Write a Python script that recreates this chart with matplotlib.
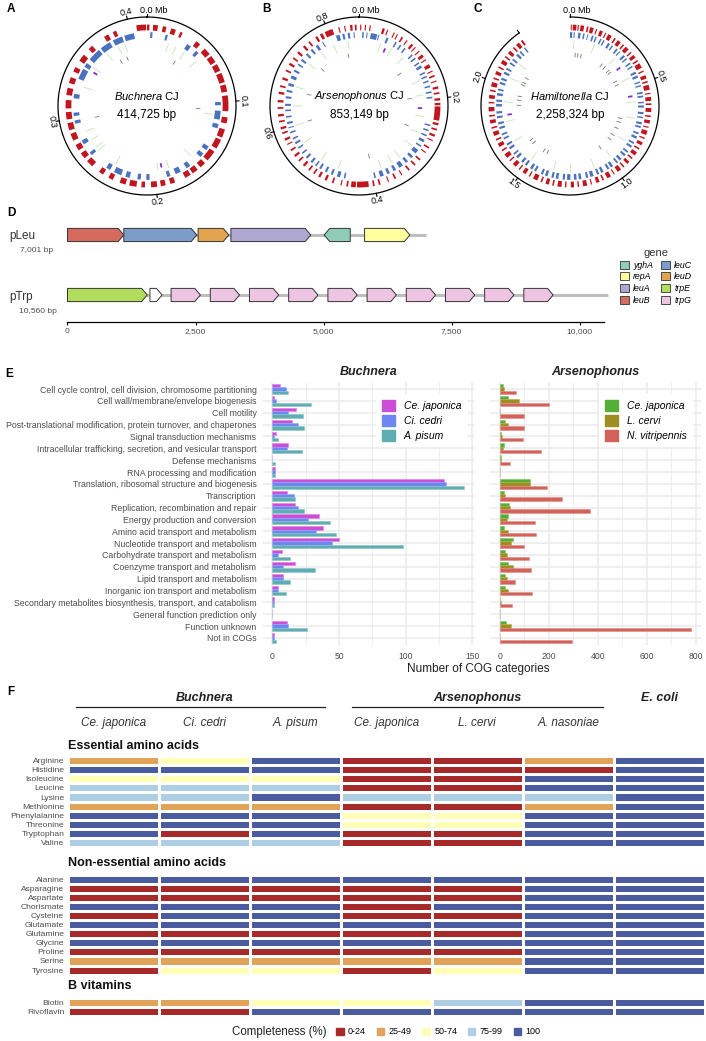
import numpy as np
import matplotlib.pyplot as plt
from matplotlib.patches import Polygon, Patch
from matplotlib.colors import ListedColormap, BoundaryNorm
from matplotlib.transforms import blended_transform_factory

plt.rcParams['font.family'] = ['Liberation Sans', 'DejaVu Sans']
plt.rcParams['mathtext.fontset'] = 'custom'
plt.rcParams['mathtext.it'] = 'Liberation Sans:italic'
plt.rcParams['mathtext.rm'] = 'Liberation Sans'
plt.rcParams['mathtext.bf'] = 'Liberation Sans:bold'

# ---------------- data: genome maps (kb) ----------------
buch_len = 414.725
buch_ticks = [0.0, 0.1, 0.2, 0.3, 0.4]
buch_red = [[0, 2], [5, 9], [13, 16], [20, 24], [28, 30], [43, 47], [52, 58], [60, 66], [68, 74], [76, 84],
            [86, 92], [95, 108], [113, 118], [123, 130], [132, 140], [143, 152], [155, 160], [163, 168],
            [170, 175], [184, 188], [192, 196], [199, 204], [209, 212], [216, 222], [225, 230], [236, 240],
            [245, 249], [256, 262], [265, 270], [273, 278], [282, 288], [291, 297], [300, 306], [309, 316],
            [320, 326], [330, 335], [340, 344], [350, 356], [362, 366], [378, 382], [386, 389], [406, 414]]
buch_blue = [[3, 5], [17, 19], [38, 42], [48, 51], [100, 103], [108, 116], [120, 124], [142, 146], [150, 154],
             [166, 170], [176, 181], [186, 189], [205, 208], [213, 216], [223, 227], [231, 238], [242, 246],
             [263, 266], [275, 279], [295, 298], [302, 305], [318, 322], [336, 346], [348, 352], [356, 368],
             [370, 380], [383, 392], [394, 403]]
buch_trna = [22, 30, 40, 55, 112, 160, 185, 196, 240, 262, 266, 275, 285, 330, 352, 372, 385, 392]
buch_rrna = [192, 348]
buch_other = [37, 107, 297, 380, 389]

ars_len = 853.149
ars_ticks = [0.0, 0.2, 0.4, 0.6, 0.8]
ars_red = [[2, 4], [10, 12], [18, 20], [40, 44], [48, 50], [60, 62], [66, 68], [75, 78], [85, 87], [95, 99],
           [103, 105], [112, 114], [120, 125], [130, 132], [140, 146], [152, 154], [160, 163], [170, 172],
           [180, 184], [190, 193], [200, 204], [208, 212], [214, 238], [242, 246], [252, 255], [262, 266],
           [272, 274], [285, 288], [295, 297], [310, 313], [322, 325], [335, 338], [350, 352], [362, 365],
           [375, 377], [390, 393], [400, 403], [410, 430], [432, 440], [445, 448], [456, 458], [470, 473],
           [482, 486], [494, 498], [505, 508], [515, 518], [526, 530], [538, 541], [548, 552], [560, 563],
           [572, 574], [580, 584], [592, 595], [600, 604], [612, 615], [622, 626], [635, 638], [646, 650],
           [660, 664], [672, 675], [685, 689], [700, 703], [712, 716], [724, 727], [736, 740], [750, 754],
           [762, 765], [776, 780], [785, 790], [794, 808], [818, 820], [828, 830], [838, 842], [846, 849]]
ars_blue = [[6, 9], [14, 16], [22, 34], [36, 38], [52, 56], [70, 73], [80, 83], [90, 93], [108, 111],
            [116, 119], [127, 130], [134, 139], [148, 151], [156, 159], [165, 168], [175, 178], [186, 189],
            [196, 199], [248, 251], [258, 261], [268, 271], [278, 283], [290, 293], [300, 308], [315, 320],
            [328, 333], [340, 348], [355, 360], [368, 373], [380, 387], [395, 398], [452, 455], [462, 468],
            [476, 480], [488, 492], [500, 504], [510, 513], [520, 524], [532, 536], [544, 547], [556, 559],
            [566, 570], [576, 579], [588, 591], [598, 600], [606, 610], [618, 621], [630, 633], [640, 644],
            [654, 658], [666, 670], [678, 683], [692, 698], [706, 710], [720, 723], [730, 734], [744, 748],
            [756, 760], [768, 773], [782, 784], [810, 817], [822, 826], [832, 836], [843, 845]]
ars_trna = [45, 70, 100, 160, 190, 235, 270, 300, 335, 355, 380, 470, 510, 560, 600, 640, 680, 735, 770, 800, 830]
ars_rrna = [58, 218]
ars_other = [123, 194, 265, 400, 601, 670, 746, 825]

ham_len = 2258.324
ham_scale = 2500
ham_ticks = [0.0, 0.5, 1.0, 1.5, 2.0]
ham_red = [[4, 9], [14, 32], [38, 44], [52, 70], [84, 92], [100, 118], [130, 136], [150, 166], [178, 184],
           [195, 214], [230, 238], [250, 268], [282, 290], [300, 320], [335, 342], [355, 372], [386, 394],
           [405, 430], [445, 452], [470, 488], [500, 508], [520, 545], [560, 566], [580, 600], [612, 620],
           [635, 655], [672, 680], [695, 712], [728, 734], [748, 770], [785, 792], [810, 826], [842, 850],
           [866, 885], [900, 908], [925, 940], [958, 966], [980, 1000], [1018, 1024], [1040, 1060],
           [1078, 1086], [1102, 1118], [1140, 1146], [1165, 1185], [1205, 1212], [1230, 1246], [1268, 1275],
           [1292, 1312], [1330, 1338], [1355, 1372], [1390, 1398], [1415, 1438], [1455, 1462], [1480, 1498],
           [1515, 1522], [1540, 1560], [1578, 1585], [1600, 1622], [1640, 1648], [1665, 1684], [1700, 1708],
           [1725, 1746], [1762, 1770], [1788, 1806], [1822, 1830], [1848, 1870], [1888, 1895], [1912, 1930],
           [1948, 1956], [1972, 1994], [2010, 2018], [2035, 2052], [2070, 2078], [2095, 2115], [2130, 2138],
           [2155, 2172], [2190, 2198], [2212, 2230], [2242, 2252]]
ham_blue = [[0, 12], [20, 26], [45, 58], [72, 80], [95, 100], [120, 130], [140, 148], [168, 176], [186, 194],
            [216, 228], [240, 248], [270, 280], [292, 298], [322, 334], [344, 352], [375, 384], [396, 404],
            [432, 444], [455, 468], [490, 498], [510, 518], [548, 558], [568, 578], [602, 610], [622, 634],
            [658, 670], [684, 692], [714, 726], [736, 746], [772, 782], [795, 808], [830, 840], [852, 864],
            [888, 898], [910, 922], [942, 956], [968, 978], [1002, 1016], [1026, 1038], [1062, 1076],
            [1088, 1100], [1120, 1138], [1150, 1162], [1188, 1202], [1214, 1228], [1248, 1266], [1278, 1290],
            [1314, 1328], [1340, 1352], [1374, 1388], [1400, 1412], [1440, 1452], [1464, 1478], [1500, 1512],
            [1525, 1538], [1562, 1576], [1588, 1598], [1625, 1638], [1650, 1662], [1688, 1698], [1712, 1722],
            [1748, 1760], [1774, 1786], [1808, 1820], [1834, 1846], [1872, 1886], [1898, 1910], [1932, 1946],
            [1960, 1970], [1996, 2008], [2020, 2032], [2055, 2068], [2082, 2092], [2118, 2128], [2142, 2152],
            [2175, 2188], [2200, 2210], [2232, 2240]]
ham_trna = [25, 150, 300, 450, 600, 700, 850, 980, 1100, 1250, 1350, 1500, 1650, 1780, 1900, 2050, 2150]
ham_rrna = [365, 563, 1820]
ham_other = [40, 60, 85, 260, 290, 330, 350, 430, 460, 720, 750, 800, 860, 900, 1000, 1430, 1460, 1560,
             1590, 1880, 1920, 1950, 2040, 2060, 2100]

# ---------------- data: plasmids ----------------
pleu_genes = ['leuB', 'leuC', 'leuD', 'leuA', 'yghA', 'repA']
pleu_start = [0, 1100, 2550, 3190, 5010, 5800]
pleu_end = [1100, 2525, 3150, 4750, 5520, 6685]
pleu_strand = [1, 1, 1, 1, -1, 1]
pleu_len = 7001
ptrp_genes = ['trpE', 'other', 'trpG', 'trpG', 'trpG', 'trpG', 'trpG', 'trpG', 'trpG', 'trpG', 'trpG', 'trpG']
ptrp_start = [0, 1610, 2023, 2788, 3553, 4318, 5084, 5849, 6614, 7379, 8144, 8909]
ptrp_end = [1557, 1847, 2595, 3360, 4125, 4890, 5656, 6421, 7186, 7951, 8716, 9481]
ptrp_strand = [1] * 12
ptrp_len = 10560
legend_genes = ['yghA', 'repA', 'leuA', 'leuB', 'leuC', 'leuD', 'trpE', 'trpG']
gene_colors = {'yghA': '#8FCBB6', 'repA': '#FFFF9E', 'leuA': '#ADA7D2', 'leuB': '#D66A5E',
               'leuC': '#7C9DC9', 'leuD': '#E2A44F', 'trpE': '#B2DC5B', 'trpG': '#EEC4E3', 'other': 'white'}

# ---------------- data: COG counts ----------------
cog_cats = ['Cell cycle control, cell division, chromosome partitioning',
            'Cell wall/membrane/envelope biogenesis', 'Cell motility',
            'Post-translational modification, protein turnover, and chaperones',
            'Signal transduction mechanisms',
            'Intracellular trafficking, secretion, and vesicular transport', 'Defense mechanisms',
            'RNA processing and modification', 'Translation, ribosomal structure and biogenesis',
            'Transcription', 'Replication, recombination and repair', 'Energy production and conversion',
            'Amino acid transport and metabolism', 'Nucleotide transport and metabolism',
            'Carbohydrate transport and metabolism', 'Coenzyme transport and metabolism',
            'Lipid transport and metabolism', 'Inorganic ion transport and metabolism',
            'Secondary metabolites biosynthesis, transport, and catabolism',
            'General function prediction only', 'Function unknown', 'Not in COGs']
buch_ce = [6, 1, 18, 15, 3, 12, 0, 2, 129, 11, 17, 35, 38, 50, 7, 17, 8, 4, 1, 0, 11, 1]
buch_ci = [10, 3, 12, 19, 1, 11, 0, 2, 130, 16, 19, 27, 33, 45, 4, 8, 8, 4, 1, 0, 12, 1]
buch_ap = [12, 29, 23, 24, 4, 22, 2, 2, 144, 17, 24, 43, 48, 98, 13, 32, 13, 10, 1, 0, 26, 3]
ars_ce = [14, 35, 1, 24, 4, 18, 4, 0, 124, 19, 38, 35, 20, 53, 22, 33, 24, 22, 0, 0, 27, 0]
ars_lc = [19, 78, 0, 33, 8, 15, 7, 0, 124, 24, 42, 31, 34, 45, 30, 54, 31, 34, 7, 0, 48, 0]
ars_nv = [67, 200, 100, 100, 94, 168, 42, 0, 192, 254, 368, 144, 147, 99, 120, 128, 63, 132, 52, 0, 780, 297]

# ---------------- data: completeness heatmap (0:0-24 1:25-49 2:50-74 3:75-99 4:100) ----------------
hm_species = ['Ce. japonica', 'Ci. cedri', 'A. pisum', 'Ce. japonica', 'L. cervi', 'A. nasoniae']
ess_names = ['Arginine', 'Histidine', 'Isoleucine', 'Leucine', 'Lysine', 'Methionine', 'Phenylalanine',
             'Threonine', 'Tryptophan', 'Valine']
ess_vals = [[1, 2, 4, 0, 0, 1, 4], [4, 4, 4, 0, 0, 0, 4], [2, 2, 2, 0, 0, 4, 4], [3, 3, 3, 0, 0, 4, 4],
            [3, 3, 4, 3, 3, 3, 4], [1, 1, 1, 0, 0, 1, 4], [4, 4, 4, 2, 2, 4, 4], [4, 4, 4, 2, 2, 4, 4],
            [4, 0, 4, 0, 0, 4, 4], [3, 3, 3, 0, 0, 4, 4]]
non_names = ['Alanine', 'Asparagine', 'Aspartate', 'Chorismate', 'Cysteine', 'Glutamate', 'Glutamine',
             'Glycine', 'Proline', 'Serine', 'Tyrosine']
non_vals = [[4, 4, 4, 4, 4, 4, 4], [0, 0, 0, 0, 0, 4, 4], [0, 0, 0, 0, 0, 4, 4], [4, 4, 4, 0, 4, 4, 4],
            [0, 4, 4, 0, 0, 4, 4], [4, 4, 4, 4, 4, 4, 4], [0, 0, 0, 0, 0, 4, 4], [4, 4, 4, 4, 4, 4, 4],
            [0, 0, 0, 0, 0, 4, 4], [1, 1, 1, 1, 1, 4, 4], [0, 2, 2, 0, 2, 4, 4]]
vit_names = ['Biotin', 'Rivoflavin']
vit_vals = [[1, 1, 2, 2, 3, 4, 4], [0, 0, 4, 4, 4, 4, 4]]
comp_labels = ['0-24', '25-49', '50-74', '75-99', '100']
comp_colors = ['#A62A2A', '#E1A259', '#FFFFB5', '#AECFE3', '#4A5C9F']

W, H = 706, 1041
fig = plt.figure(figsize=(W / 100, H / 100), dpi=100)


def px_axes(left, top, w, h, **kw):
    return fig.add_axes([left / W, 1 - (top + h) / H, w / W, h / H], **kw)


def fx(x):
    return x / W


def fy(y):
    return 1 - y / H


# ---------------- A-C circular genomes ----------------
def draw_genome(cx, title, size_txt, glen, scale, ticks, red, blue, trna, rrna, other):
    R = 89
    ax = px_axes(cx - R, 106 - R, 2 * R, 2 * R, projection='polar')
    ax.set_theta_zero_location('N')
    ax.set_theta_direction(-1)
    ax.set_ylim(0, 1)
    ax.axis('off')
    k = 2 * np.pi / scale
    th = np.linspace(0, glen * k, 500)
    ax.plot(th, np.ones_like(th), color='black', lw=0.9, clip_on=False)
    for s, e in red:
        ax.bar(s * k, 0.065, width=(e - s) * k, bottom=0.85, align='edge', color='#C1161F', lw=0)
    for s, e in blue:
        ax.bar(s * k, 0.065, width=(e - s) * k, bottom=0.765, align='edge', color='#4A72BD', lw=0)
    ax.vlines([p * k for p in trna], 0.64, 0.74, color='#B9DFAE', lw=0.5)
    ax.vlines([p * k for p in rrna], 0.66, 0.71, color='#8A2BC6', lw=1.3)
    ax.vlines([p * k for p in other], 0.55, 0.6, color='#777777', lw=0.6)
    for t in ticks:
        a = t * 1000 * k
        ax.plot([a, a], [1.0, 1.035], color='black', lw=0.8, clip_on=False)
        deg = np.degrees(a)
        rot = 180 - deg if 90 < deg < 270 else -deg
        if t == 0:
            ax.text(-0.07, 1.08, '0.0 Mb', ha='left', va='center', fontsize=6.5, rotation=0,
                    rotation_mode='anchor')
        else:
            ax.text(a, 1.08, f'{t:.1f}', ha='center', va='center', fontsize=6.5, rotation=rot,
                    rotation_mode='anchor')
    if glen < scale:
        ax.plot([glen * k, glen * k], [1.0, 1.035], color='black', lw=0.8, clip_on=False)
    ax.text(0.5, 0.555, r'$\mathit{' + title + r'}$ CJ', transform=ax.transAxes, ha='center', va='center',
            fontsize=8)
    ax.text(0.5, 0.45, size_txt, transform=ax.transAxes, ha='center', va='center', fontsize=8.5)


draw_genome(147, 'Buchnera', '414,725 bp', buch_len, buch_len, buch_ticks, buch_red, buch_blue,
            buch_trna, buch_rrna, buch_other)
draw_genome(359, 'Arsenophonus', '853,149 bp', ars_len, ars_len, ars_ticks, ars_red, ars_blue,
            ars_trna, ars_rrna, ars_other)
draw_genome(570, 'Hamiltonella', '2,258,324 bp', ham_len, ham_scale, ham_ticks, ham_red, ham_blue,
            ham_trna, ham_rrna, ham_other)

# ---------------- D plasmids ----------------
axd = px_axes(60, 215, 550, 107)
axd.set_xlim(-146, 10591)
axd.set_ylim(-0.45, 1.333)


def draw_plasmid(y, genes, starts, ends, strands, plen):
    axd.plot([0, plen], [y, y], color='#BEBEBE', lw=2.2, zorder=1, solid_capstyle='butt')
    hh = 0.11
    for g, s, e, d in zip(genes, starts, ends, strands):
        head = min(110, (e - s) * 0.5)
        if d > 0:
            pts = [(s, y - hh), (e - head, y - hh), (e, y), (e - head, y + hh), (s, y + hh)]
        else:
            pts = [(e, y - hh), (s + head, y - hh), (s, y), (s + head, y + hh), (e, y + hh)]
        axd.add_patch(Polygon(pts, closed=True, facecolor=gene_colors[g], edgecolor='#333333', lw=0.7,
                              zorder=2))


draw_plasmid(1, pleu_genes, pleu_start, pleu_end, pleu_strand, pleu_len)
draw_plasmid(0, ptrp_genes, ptrp_start, ptrp_end, ptrp_strand, ptrp_len)
for s in ['top', 'right', 'left']:
    axd.spines[s].set_visible(False)
axd.spines['bottom'].set_position(('data', -0.45))
axd.spines['bottom'].set_bounds(0, ptrp_len - 90)
axd.spines['bottom'].set_linewidth(0.9)
axd.set_yticks([])
axd.set_xticks([0, 2500, 5000, 7500, 10000])
axd.set_xticklabels(['0', '2,500', '5,000', '7,500', '10,000'], fontsize=6, color='#4D4D4D')
axd.tick_params(axis='x', length=2.5, width=0.8, pad=2)
axd.set_facecolor('none')

fig.text(fx(9), fy(236), 'pLeu', fontsize=8.5, color='#333333', va='center', ha='left')
fig.text(fx(53), fy(250), '7,001 bp', fontsize=6, color='#4D4D4D', va='center', ha='right')
fig.text(fx(9), fy(297), 'pTrp', fontsize=8.5, color='#333333', va='center', ha='left')
fig.text(fx(57), fy(312), '10,560 bp', fontsize=6, color='#4D4D4D', va='center', ha='right')

gene_handles = [Patch(facecolor=gene_colors[g], edgecolor='#333333', lw=0.6) for g in legend_genes]
leg = fig.legend(gene_handles, legend_genes, ncol=2, loc='upper left', bbox_to_anchor=(fx(614), fy(242)),
                 frameon=False, prop={'style': 'italic', 'size': 6.3}, title='gene', title_fontsize=8,
                 handlelength=1.0, handleheight=1.0, handletextpad=0.5, columnspacing=0.9, labelspacing=0.3,
                 borderpad=0.2)
leg.get_title().set_color('#333333')

# ---------------- E COG bars ----------------
ypos = np.arange(len(cog_cats))
bw = 0.28


def style_cog(ax, xmax, major, minor):
    ax.set_ylim(len(cog_cats) - 0.4, -0.6)
    ax.set_xlim(-0.05 * xmax, xmax * 1.05)
    ax.set_xticks(major)
    ax.set_xticks(minor, minor=True)
    ax.set_yticks(ypos)
    ax.grid(which='major', color='#EBEBEB', lw=1.1)
    ax.grid(which='minor', axis='x', color='#EBEBEB', lw=0.6)
    ax.set_axisbelow(True)
    for s in ax.spines.values():
        s.set_visible(False)
    ax.tick_params(which='both', length=0, labelsize=6.2, labelcolor='#4D4D4D', pad=5)


axb = px_axes(262.7, 382, 211.2, 263)
axb.barh(ypos - bw, buch_ce, height=bw, color='#CC4ED6', edgecolor='#E07FE6', lw=0.4)
axb.barh(ypos, buch_ci, height=bw, color='#6E86F2', edgecolor='#98A8F5', lw=0.4)
axb.barh(ypos + bw, buch_ap, height=bw, color='#5DADB2', edgecolor='#8CC6C9', lw=0.4)
style_cog(axb, 144, [0, 50, 100, 150], [25, 75, 125])
axb.set_yticklabels(cog_cats, fontsize=6.3)
axb.tick_params(axis='y', pad=4.5)
axb.set_title('Buchnera', fontsize=9, fontweight='bold', style='italic', color='#222222', pad=5)
axb.legend([Patch(color='#CC4ED6'), Patch(color='#6E86F2'), Patch(color='#5DADB2')],
           ['Ce. japonica', 'Ci. cedri', 'A. pisum'], loc='upper right', bbox_to_anchor=(0.995, 0.975),
           prop={'style': 'italic', 'size': 7.5}, frameon=True, facecolor='white', edgecolor='none',
           framealpha=1, handlelength=1.2, handleheight=1.2, handletextpad=0.9, labelspacing=0.4,
           borderpad=0.6, fancybox=False)

axa = px_axes(490, 382, 210.5, 263)
axa.barh(ypos - bw, ars_ce, height=bw, color='#55AE37', edgecolor='#7EC26A', lw=0.4)
axa.barh(ypos, ars_lc, height=bw, color='#9E8E1F', edgecolor='#B8AB55', lw=0.4)
axa.barh(ypos + bw, ars_nv, height=bw, color='#D3625B', edgecolor='#E08E89', lw=0.4)
style_cog(axa, 780, [0, 200, 400, 600, 800], [100, 300, 500, 700])
axa.set_yticklabels([])
axa.set_title('Arsenophonus', fontsize=9, fontweight='bold', style='italic', color='#222222', pad=5)
axa.legend([Patch(color='#55AE37'), Patch(color='#9E8E1F'), Patch(color='#D3625B')],
           ['Ce. japonica', 'L. cervi', 'N. vitripennis'], loc='upper right', bbox_to_anchor=(0.99, 0.975),
           prop={'style': 'italic', 'size': 7.5}, frameon=True, facecolor='white', edgecolor='none',
           framealpha=1, handlelength=1.2, handleheight=1.2, handletextpad=0.9, labelspacing=0.4,
           borderpad=0.6, fancybox=False)
fig.text(fx(478), fy(669), 'Number of COG categories', ha='center', va='center', fontsize=8.5,
         color='#222222')

# ---------------- F completeness heatmap ----------------
cmap = ListedColormap(comp_colors)
norm = BoundaryNorm(np.arange(-0.5, 5.5, 1), cmap.N)
rowh = 9.07


def draw_heat(top, names, vals):
    ax = px_axes(67.6, top, 637.4, len(names) * rowh)
    ax.pcolormesh(np.array(vals), cmap=cmap, norm=norm, edgecolors='white', linewidth=0.85)
    ax.set_xlim(0, 7)
    ax.set_ylim(len(names), 0)
    ax.set_yticks(np.arange(len(names)) + 0.5)
    ax.set_yticklabels(names, fontsize=6.1, color='#4D4D4D')
    ax.set_xticks([])
    ax.tick_params(length=0, pad=2.5)
    for s in ax.spines.values():
        s.set_visible(False)
    return ax


ax_ess = draw_heat(756.2, ess_names, ess_vals)
draw_heat(874.8, non_names, non_vals)
draw_heat(997.6, vit_names, vit_vals)

for txt, y in [('Essential amino acids', 745.7), ('Non-essential amino acids', 863.3), ('B vitamins', 985.7)]:
    fig.text(fx(67.6), fy(y), txt, fontsize=9, fontweight='bold', va='center', color='#111111')

btr = blended_transform_factory(ax_ess.transData, fig.transFigure)
for i, sp in enumerate(hm_species):
    ax_ess.text(i + 0.5, fy(722.7), sp, transform=btr, ha='center', va='center', fontsize=8.5,
                style='italic', color='#333333')
for txt, xc in [('Buchnera', 1.5), ('Arsenophonus', 4.5), ('E. coli', 6.5)]:
    ax_ess.text(xc, fy(697.7), txt, transform=btr, ha='center', va='center', fontsize=9,
                style='italic', fontweight='bold', color='#222222')
ax_ess.plot([0.09, 2.83], [fy(706.7)] * 2, transform=btr, color='#222222', lw=0.9, clip_on=False)
ax_ess.plot([3.12, 5.88], [fy(706.7)] * 2, transform=btr, color='#222222', lw=0.9, clip_on=False)

comp_handles = [Patch(color=c) for c in comp_colors]
fig.text(fx(327), fy(1032), 'Completeness (%)', ha='right', va='center', fontsize=8.3, color='#222222')
fig.legend(comp_handles, comp_labels, ncol=5, loc='center left', bbox_to_anchor=(fx(330), fy(1032)),
           frameon=False, fontsize=6.5, handlelength=0.8, handleheight=0.8, handletextpad=0.5,
           columnspacing=1.2, borderpad=0.2)

# ---------------- panel letters ----------------
for lab, x, y in [('A', 7, 9), ('B', 262, 9), ('C', 473, 9), ('D', 7, 213), ('E', 5, 374), ('F', 7, 692)]:
    fig.text(fx(x), fy(y), lab, fontsize=8.5, fontweight='bold', va='center', ha='left')

fig.savefig('out.png', dpi=100)
